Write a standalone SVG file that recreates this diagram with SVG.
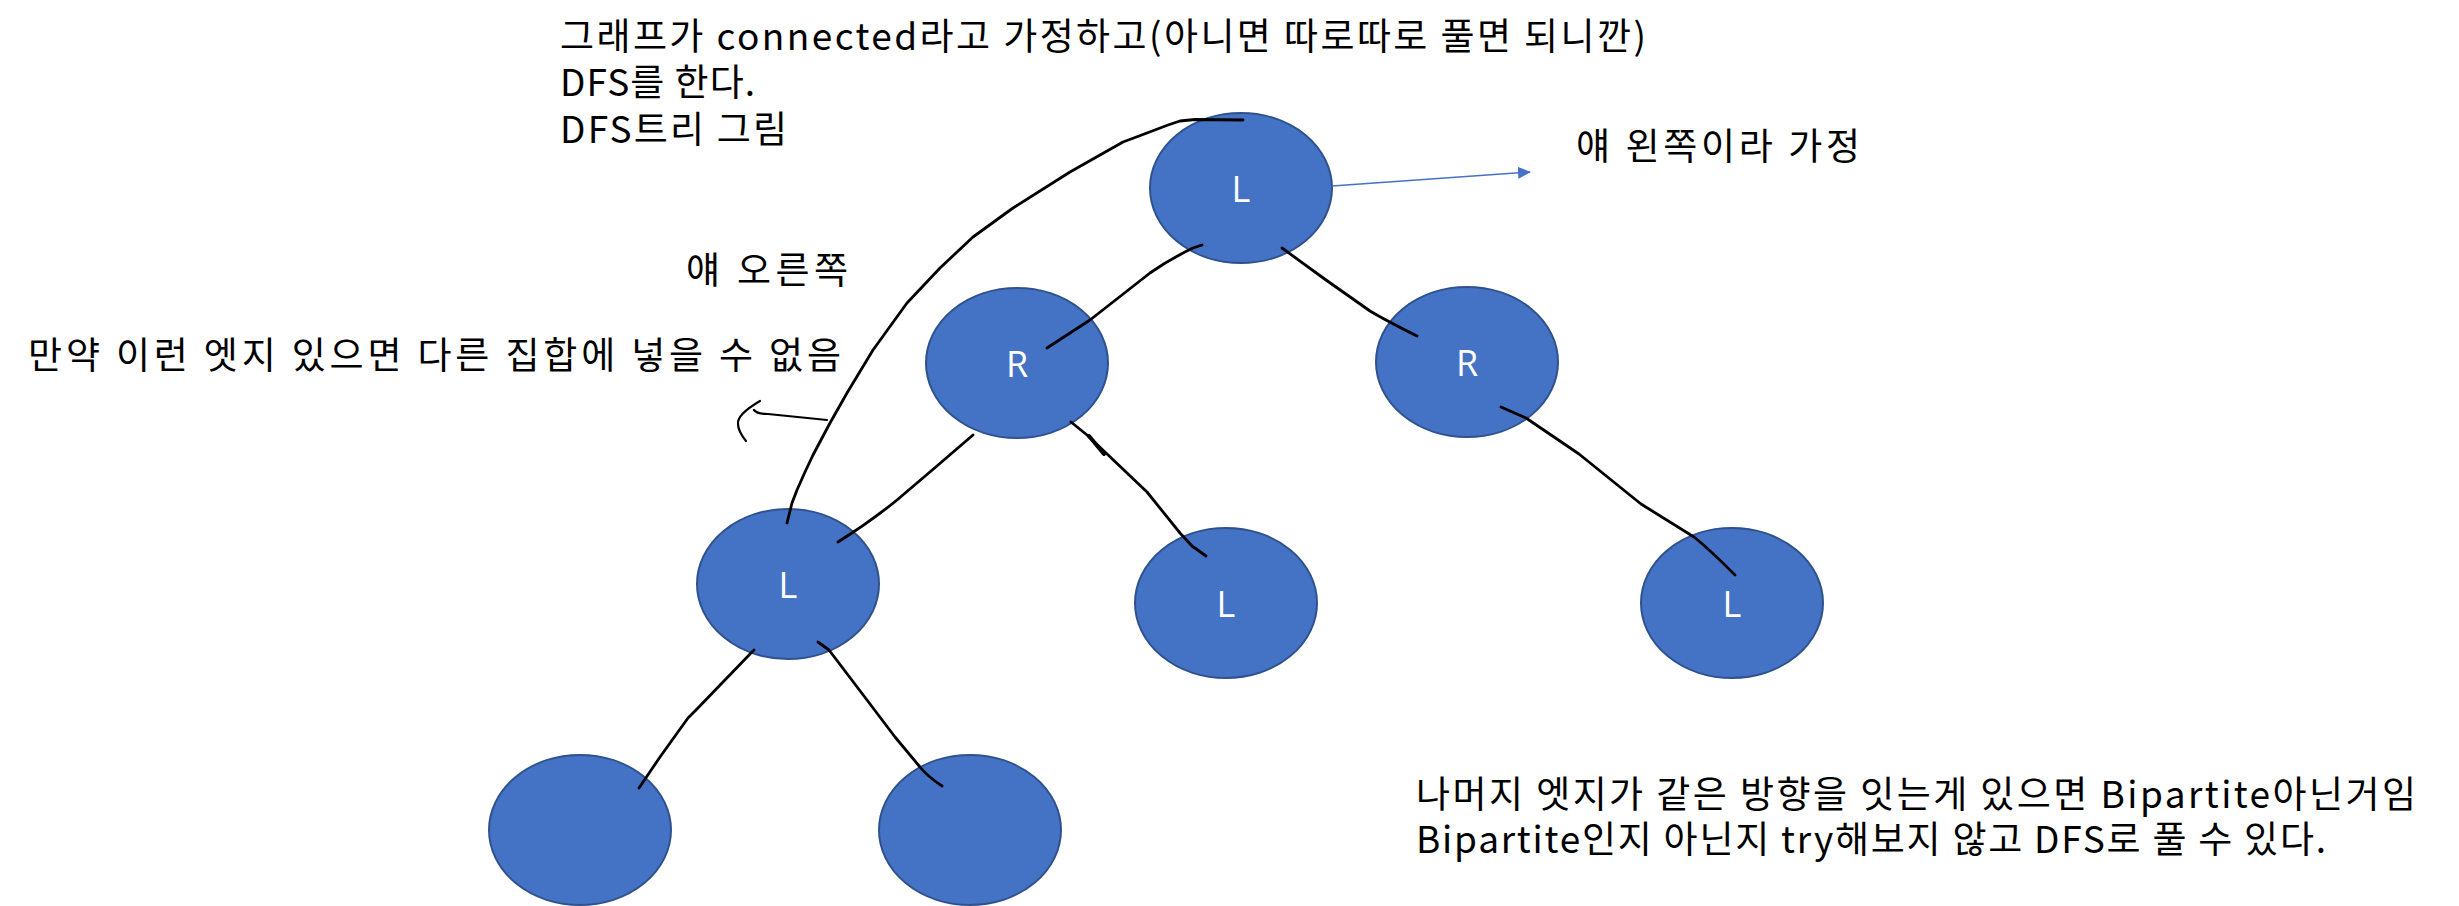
<svg xmlns="http://www.w3.org/2000/svg" width="2459" height="906" viewBox="0 0 2459 906">
<defs>
<style>
.node ellipse{fill:#4472C4;stroke:#2F528F;stroke-width:2}
.lbl{font-family:"Open Sans","Noto Sans","Liberation Sans",sans-serif;font-size:36px;fill:#ffffff;text-anchor:middle}
.ink{fill:none;stroke:#000000;stroke-width:2.8;stroke-linecap:round;stroke-linejoin:round}
.note{font-family:"Noto Sans CJK KR","Noto Sans",sans-serif;font-size:37px;fill:#000000}
.pointer{fill:none;stroke:#4472C4;stroke-width:1.5}
</style>
<marker id="tri" viewBox="0 0 13 12" refX="12" refY="6" markerWidth="13" markerHeight="12" markerUnits="userSpaceOnUse" orient="auto">
<path d="M0,0 L13,6 L0,12 Z" fill="#4472C4"/>
</marker>
</defs>
<rect width="2459" height="906" fill="#ffffff"/>

<g id="notes">
<text class="note" x="560" y="50" textLength="1086">그래프가 connected라고 가정하고(아니면 따로따로 풀면 되니깐)</text>
<text class="note" x="560" y="96" textLength="195">DFS를 한다.</text>
<text class="note" x="560" y="143" textLength="227">DFS트리 그림</text>
<text class="note" x="1576" y="160" textLength="284">얘 왼쪽이라 가정</text>
<text class="note" x="686" y="284" textLength="162">얘 오른쪽</text>
<text class="note" x="28" y="369" textLength="813">만약 이런 엣지 있으면 다른 집합에 넣을 수 없음</text>
<text class="note" x="1416" y="808" textLength="1000">나머지 엣지가 같은 방향을 잇는게 있으면 Bipartite아닌거임</text>
<text class="note" x="1416" y="853" textLength="910">Bipartite인지 아닌지 try해보지 않고 DFS로 풀 수 있다.</text>
</g>

<g id="n-root" class="node"><ellipse cx="1241" cy="188" rx="91" ry="75"/><text class="lbl" x="1241" y="202">L</text></g>
<g id="n-r1" class="node"><ellipse cx="1017" cy="363" rx="91" ry="75"/><text class="lbl" x="1017" y="377">R</text></g>
<g id="n-r2" class="node"><ellipse cx="1467" cy="362" rx="91" ry="75"/><text class="lbl" x="1467" y="376">R</text></g>
<g id="n-l1" class="node"><ellipse cx="788" cy="584" rx="91" ry="75"/><text class="lbl" x="788" y="598">L</text></g>
<g id="n-l2" class="node"><ellipse cx="1226" cy="603" rx="91" ry="75"/><text class="lbl" x="1226" y="617">L</text></g>
<g id="n-l3" class="node"><ellipse cx="1732" cy="603" rx="91" ry="75"/><text class="lbl" x="1732" y="617">L</text></g>
<g id="n-b1" class="node"><ellipse cx="580" cy="830" rx="91" ry="75"/></g>
<g id="n-b2" class="node"><ellipse cx="970" cy="830" rx="91" ry="75"/></g>

<g id="connectors">
<path class="pointer" d="M1332,186 L1530,172" marker-end="url(#tri)"/>
<path class="ink" d="M1202,245 L1193,248 Q1170,259 1150,273 L1090,320 L1047,348"/>
<path class="ink" d="M1282,248 L1326,280 L1370,311 Q1385,320 1417,336"/>
<path class="ink" d="M973,435 Q936,467 897,500 Q870,522 838,542"/>
<path class="ink" d="M1071,422 L1087,435 L1106,453 L1147,492 L1180,533 L1192,546 L1206,556"/>
<path class="ink" style="stroke-width:4" d="M1089,436 L1104,454"/>
<path class="ink" d="M1501,407 L1526,418 L1579,454 L1641,504 L1694,537 Q1708,548 1735,575"/>
<path class="ink" d="M754,650 L751,653 L696,710 L688,718 L660,757 L639,788"/>
<path class="ink" d="M818,642 L829,650 L867,700 L895,737 L920,767 Q927,776 942,786"/>
<path class="ink" d="M787,523 L792,503 L797,490 L805,472 L813,455 L830,423 L847,393 L873,350 L907,303 L940,268 L973,237 L1013,208 L1070,172 L1123,142 L1147,133 L1168,125 L1180,121 L1195,119.5 L1243,120"/>
<path class="ink" style="stroke-width:2.2" d="M760,401 C748,408 737,416 738,424 C738,430 742,436 746,441"/>
<path class="ink" style="stroke-width:2.2" d="M754,410 Q757,414 768,414 L827,420"/>
</g>
</svg>
